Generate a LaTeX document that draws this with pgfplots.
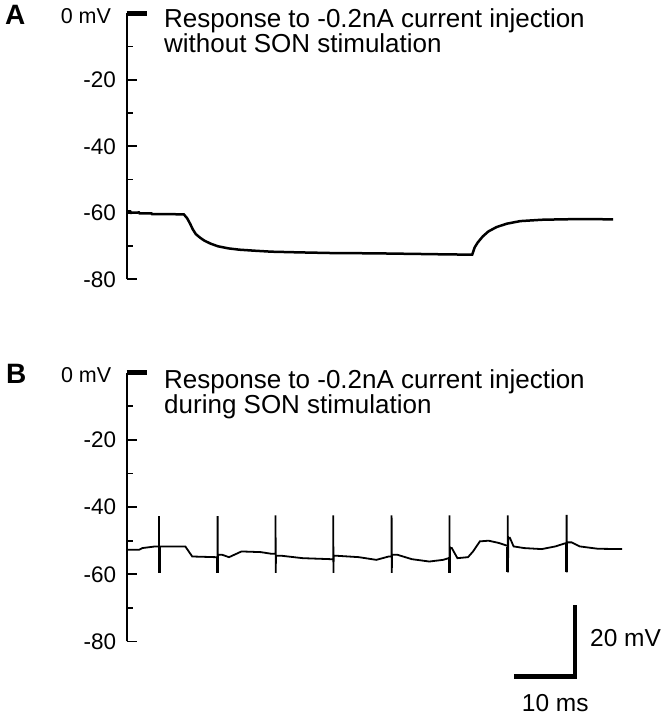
\documentclass[border=0pt]{standalone}
\usepackage{fontspec}
\usepackage{pgfplots}
\pgfplotsset{compat=1.18}
\setmainfont{Liberation Sans}
\newcommand\tfont{\fontsize{26bp}{25bp}\selectfont}
\newcommand\tickfont{\fontsize{22.5bp}{24bp}\selectfont}
\newcommand\zerofont{\fontsize{21.5bp}{24bp}\selectfont}
\newcommand\sbfont{\fontsize{24.5bp}{26bp}\selectfont}
\newcommand\panelfont{\bfseries\fontsize{28bp}{30bp}\selectfont}

\pgfplotsset{
  trace axis/.style={
    scale only axis,
    anchor=south west,
    width=499.2bp,
    xmin=0, xmax=80,
    ymin=-80, ymax=0,
    axis x line=none,
    axis y line=left,
    axis line style={-, line width=2bp},
    tick align=inside,
    ytick={-80,-60,-40,-20},
    yticklabels={-80,-60,-40,-20},
    minor ytick={-70,-50,-30,-10},
    major tick length=10bp,
    minor tick length=6bp,
    tick style={line width=1.8bp, black},
    yticklabel style={font=\tickfont, xshift=-7bp},
    extra y ticks={0},
    extra y tick labels={0 mV},
    extra y tick style={major tick length=20bp, tick style={line width=5.5bp, black}, yticklabel style={font=\zerofont, xshift=-5bp, yshift=-2.5bp}},
    clip=false,
  }
}

\begin{document}
\begin{tikzpicture}[x=1bp,y=1bp]
\path[use as bounding box] (0,0) rectangle (670,719);

% Panel A
\begin{axis}[trace axis, at={(126.5bp,439.7bp)}, height=266bp]
\addplot[black, line width=2.5bp] coordinates {
(0,-59.6) (0.6,-59.6) (0.7,-60.0) (2,-59.9) (2.1,-60.2) (4,-60.2) (4.1,-60.4) (7,-60.4) (9.2,-60.5)
(9.7,-61.6) (10.2,-63.3) (10.6,-64.9) (11.1,-66.4) (11.8,-67.5) (12.5,-68.4) (13.5,-69.3) (14.7,-70.1)
(16.3,-70.7) (18.1,-71.1) (20.5,-71.4) (23.2,-71.7) (27.5,-71.9) (32.7,-72.1) (40,-72.2) (47.4,-72.4)
(51,-72.5) (55.4,-72.6) (55.8,-70.4) (56.3,-68.9) (57.1,-67.1) (58.0,-65.6) (59.3,-64.3) (60.9,-63.3)
(63.1,-62.5) (66.5,-62.1) (69,-62.0) (72.1,-61.9) (75,-61.9) (78.0,-62.0)
};
\end{axis}

% Panel B
\begin{axis}[trace axis, at={(126.7bp,77.5bp)}, height=268.8bp, unbounded coords=jump]
\addplot[black, line width=1.8bp] coordinates {
(0,-52.7) (2,-52.7) (2.5,-52.2) (4.6,-51.7) (5.18,-51.7)
(5.18,-42.7) (5.2,-59.6) (5.25,-51.7) (9.39,-51.7) (10.5,-54.7) (14.2,-54.9) (14.57,-54.9)
(14.57,-42.7) (14.6,-59.6) (14.65,-54.2) (15.3,-54.2) (16.4,-54.9) (18.4,-53.2) (21.5,-53.4) (23.2,-53.9) (23.85,-53.9)
(23.85,-42.5) (23.88,-59.6) (23.92,-54.5) (24.9,-54.5) (28.2,-55.2) (32.7,-55.5) (33.1,-55.5)
(33.1,-42.5) (33.13,-59.6) (33.17,-54.5) (33.8,-54.5) (37.2,-54.9) (40.0,-55.7) (42.0,-54.7) (42.45,-54.7)
(42.45,-42.5) (42.48,-59.6) (42.52,-54.2) (43.4,-54.2) (45.7,-55.5) (48.5,-56.2) (50.7,-55.7) (51.6,-55.2) (51.73,-55.2)
(51.73,-42.5) (51.76,-59.6) (51.8,-52.2) (52.1,-52.2) (53.0,-55.2) (54.7,-54.9) (55.5,-53.2) (56.6,-50.2) (58.0,-50.0) (59.7,-50.7) (60.8,-51.4) (61.07,-51.4)
(61.07,-42.5) (61.1,-59.4) (61.15,-49.1) (61.4,-49.1) (62.0,-51.7) (63.7,-52.2) (66.5,-52.5) (68.7,-51.7) (70.4,-50.7) (70.5,-50.7)
(70.5,-42.3) (70.53,-59.4) (70.57,-50.5) (71.3,-50.5) (72.6,-51.7) (75.5,-52.4) (79.4,-52.5)
};
\addplot[black, line width=3bp] coordinates {
(5.19,-52) (5.19,-59.6) (14.58,nan) (14.58,-55) (14.58,-59.6) (51.74,nan) (51.74,-55) (51.74,-59.6)
(61.08,nan) (61.08,-52) (61.08,-59.4) (70.51,nan) (70.51,-51) (70.51,-59.4)
};
\end{axis}

% titles
\node[anchor=base west, inner sep=0, font=\tfont] at (164,691.5) {Response to -0.2nA current injection};
\node[anchor=base west, inner sep=0, font=\tfont] at (164,666.5) {without SON stimulation};
\node[anchor=base west, inner sep=0, font=\tfont] at (164,330.7) {Response to -0.2nA current injection};
\node[anchor=base west, inner sep=0, font=\tfont] at (164,305.7) {during SON stimulation};
\node[anchor=base west, inner sep=0, font=\panelfont] at (5,694.5) {A};
\node[anchor=base west, inner sep=0, font=\panelfont] at (6,335.7) {B};

% scale bar
\draw[line width=4.5bp, line join=miter] (514,42.7) -- (575,42.7) -- (575,114);
\node[anchor=base west, inner sep=0, font=\sbfont] at (590,72.3) {20 mV};
\node[anchor=base west, inner sep=0, font=\sbfont] at (521.7,7.3) {10 ms};
\end{tikzpicture}
\end{document}
